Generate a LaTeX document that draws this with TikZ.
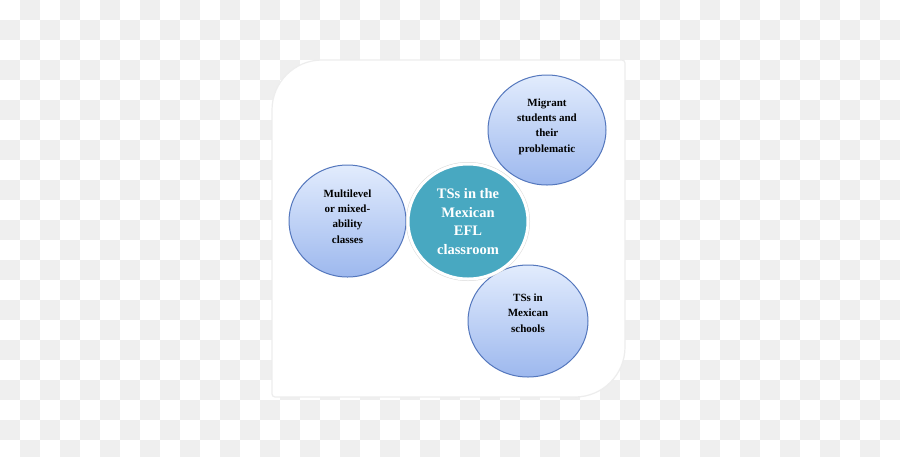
\documentclass[tikz,border=0pt]{standalone}
\usepackage{fontspec}
\setmainfont{Liberation Serif}
\usetikzlibrary{shapes.geometric}

\definecolor{checkgray}{HTML}{EFEFEF}
\definecolor{bubbletop}{HTML}{E2ECFD}
\definecolor{bubblebottom}{HTML}{9DB8EE}
\definecolor{bubbleline}{HTML}{5477BD}
\definecolor{tealfill}{HTML}{48A8C1}

\begin{document}
\begin{tikzpicture}[x=1pt, y=-1pt,
	bubble/.style={ellipse,
		draw=bubbleline,
		line width=1pt,
		top color=bubbletop,
		bottom color=bubblebottom,
		inner sep=0pt,
		align=center,
		text depth=9pt,
		font=\bfseries\fontsize{11}{15.3}\selectfont},
	hub/.style={ellipse,
		fill=tealfill,
		draw=white,
		line width=3pt,
		inner sep=0pt,
		align=center,
		text=white,
		font=\bfseries\fontsize{14.5}{18.5}\selectfont}]
	\useasboundingbox (0,0) rectangle (900,456);
	\clip (0,0) rectangle (900,456);

	% checkered backdrop
	\fill[white] (0,0) rectangle (900,456);
	\foreach \row in {0,...,22}{
		\foreach \col in {0,...,44}{
			\pgfmathtruncatemacro\chk{mod(\row+\col,2)}
			\ifnum\chk=1
				\fill[checkgray] (20*\col,20*\row) rectangle ++(20,20);
			\fi
		}
	}

	% panel
	\fill[white, draw=black!7, line width=1.2pt]
		(272,110) arc[start angle=180, end angle=270, radius=50]
		-- (622,60) arc[start angle=270, end angle=360, radius=3]
		-- (625,347) arc[start angle=0, end angle=90, radius=50]
		-- (275,397) arc[start angle=90, end angle=180, radius=3]
		-- cycle;

	\node[bubble, minimum width=118pt, minimum height=110pt] (migrant) at (547,130)
		{Migrant\\ students and\\ their\\ problematic};
	\node[bubble, minimum width=117pt, minimum height=112pt] (multilevel) at (347.5,221)
		{Multilevel\\ or mixed-\\ ability\\ classes};
	\node[bubble, minimum width=120pt, minimum height=112pt, text depth=16pt] (schools) at (528,321)
		{TSs in\\ Mexican\\ schools};

	\draw[black!15, line width=1pt] (468,221.5) ellipse[x radius=61.5, y radius=59];
	\node[hub, minimum width=120pt, minimum height=115pt] (tss) at (468,221.5)
		{TSs in the\\ Mexican\\ EFL\\ classroom};
\end{tikzpicture}
\end{document}
